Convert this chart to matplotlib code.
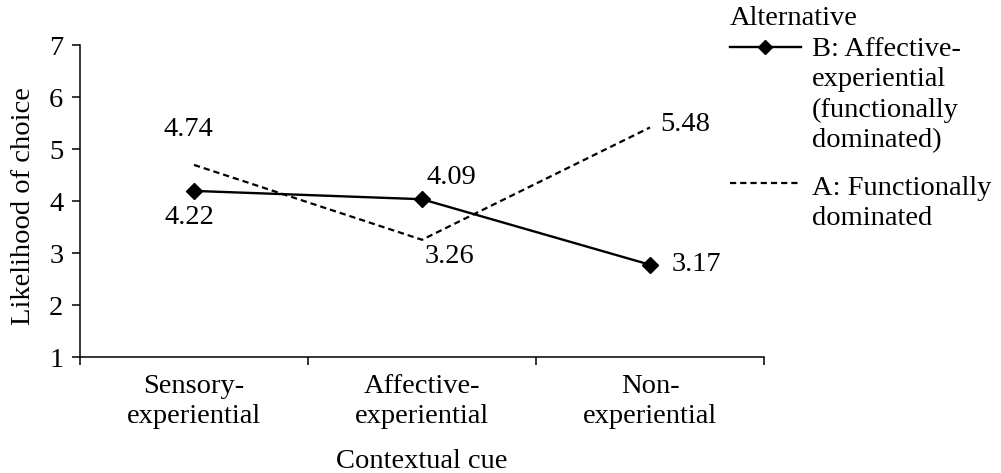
import matplotlib
matplotlib.use("Agg")
import matplotlib.pyplot as plt
from matplotlib.lines import Line2D

plt.rcParams['font.family'] = ['Liberation Serif', 'DejaVu Serif']

categories = ["Sensory-\nexperiential", "Affective-\nexperiential", "Non-\nexperiential"]
b_values = [4.20, 4.04, 2.78]
b_labels = ["4.22", "4.09", "3.17"]
a_values = [4.70, 3.26, 5.42]
a_labels = ["4.74", "3.26", "5.48"]
y_ticks = [1, 2, 3, 4, 5, 6, 7]

W, H = 1001, 473
fig = plt.figure(figsize=(W / 100, H / 100), dpi=100)
ax = fig.add_axes([80 / W, 1 - 357.3 / H, (764 - 80) / W, (357.3 - 45.3) / H])

x = [i + 0.5 for i in range(len(categories))]
ax.plot(x, b_values, color='black', lw=1.7, marker='D', ms=8.5, zorder=3)
ax.plot(x, a_values, color='black', lw=1.6, linestyle=(0, (2.8, 1.8)), zorder=2)

fs = 20.5
b_off = [(-5, -27), (29, 22), (46, 0)]
a_off = [(-6, 35), (28, -17), (35, 3)]
for xi, v, lab, off in zip(x, b_values, b_labels, b_off):
    ax.annotate(lab, (xi, v), xytext=off, textcoords='offset pixels',
                ha='center', va='center', fontsize=fs)
for xi, v, lab, off in zip(x, a_values, a_labels, a_off):
    ax.annotate(lab, (xi, v), xytext=off, textcoords='offset pixels',
                ha='center', va='center', fontsize=fs)

ax.set_xlim(0, len(categories))
ax.set_ylim(1, 7)
ax.set_yticks(y_ticks)
ax.set_yticklabels([str(t) for t in y_ticks], fontsize=fs)
ax.set_xticks(range(len(categories) + 1))
ax.set_xticklabels([])
ax.set_xticks(x, minor=True)
ax.set_xticklabels(categories, minor=True, fontsize=fs, linespacing=1.28)
ax.tick_params(axis='x', which='major', direction='out', length=6, width=1.1)
ax.tick_params(axis='x', which='minor', length=0, pad=12)
ax.tick_params(axis='y', direction='out', length=6, width=1.1, pad=6)
for s in ['top', 'right']:
    ax.spines[s].set_visible(False)
for s in ['left', 'bottom']:
    ax.spines[s].set_linewidth(1.1)

ax.set_xlabel("Contextual cue", fontsize=fs, labelpad=14)
fig.text(24 / W, 1 - 206.5 / H, "Likelihood of choice", rotation=90,
         ha='center', va='center', fontsize=fs)

# legend
fig.text(730 / W, 1 - 25 / H, "Alternative", ha='left', va='baseline', fontsize=fs)
lx = [730 / W, 765 / W, 801 / W]
yb = 1 - 47 / H
fig.add_artist(Line2D(lx, [yb] * 3, transform=fig.transFigure, color='black',
                      lw=1.7, marker='D', ms=7, markevery=[1]))
fig.text(812 / W, 1 - 147 / H, "B: Affective-\nexperiential\n(functionally\ndominated)",
         ha='left', va='baseline', fontsize=fs, linespacing=1.28)
ya = 1 - 183 / H
fig.add_artist(Line2D([730 / W, 798 / W], [ya] * 2, transform=fig.transFigure,
                      color='black', lw=1.6, linestyle=(0, (2.8, 1.8))))
fig.text(812 / W, 1 - 225 / H, "A: Functionally\ndominated",
         ha='left', va='baseline', fontsize=fs, linespacing=1.28)

fig.savefig("out.png", dpi=100)
